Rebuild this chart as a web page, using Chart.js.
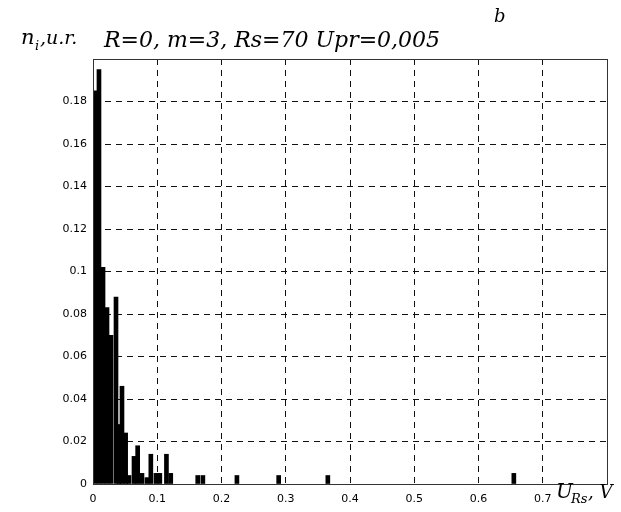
<!DOCTYPE html>
<html>
<head>
<meta charset="utf-8">
<script src="https://cdn.jsdelivr.net/npm/chart.js@4"></script>
<style>
  html, body { margin: 0; padding: 0; background: #fff; }
  #wrap { width: 621px; height: 512px; position: relative; }
</style>
</head>
<body>
<div id="wrap"><canvas id="histChart"></canvas></div>
<script>
// bar positions (U_Rs, V) and heights (n_i, u.r.)
const barX = [0.0033, 0.0093, 0.0156, 0.0218, 0.028, 0.0358, 0.0405, 0.0451, 0.0508, 0.056,
              0.0638, 0.0695, 0.0762, 0.084, 0.090, 0.098, 0.104, 0.1143, 0.121,
              0.163, 0.171, 0.224, 0.289, 0.3655, 0.655];
const barY = [0.185, 0.195, 0.102, 0.083, 0.070, 0.088, 0.028, 0.046, 0.024, 0.004,
              0.013, 0.018, 0.005, 0.003, 0.014, 0.005, 0.005, 0.014, 0.005,
              0.004, 0.004, 0.004, 0.004, 0.004, 0.005];
const xTicks = [0, 0.1, 0.2, 0.3, 0.4, 0.5, 0.6, 0.7];
const yTicks = [0, 0.02, 0.04, 0.06, 0.08, 0.1, 0.12, 0.14, 0.16, 0.18];
const titleText = 'R=0, m=3, Rs=70 Upr=0,005';

document.addEventListener('DOMContentLoaded', function() {
    const canvas = document.getElementById('histChart');
    const serif = '"DejaVu Serif", serif';

    // frame round the plot and the hand-placed labels
    const labelsPlugin = {
        id: 'labels',
        afterDraw(chart) {
            const ctx = chart.ctx;
            const a = chart.chartArea;
            ctx.save();
            ctx.strokeStyle = '#333';
            ctx.lineWidth = 1;
            ctx.strokeRect(Math.round(a.left) + 0.5, Math.round(a.top) + 0.5,
                           Math.round(a.right - a.left), Math.round(a.bottom - a.top));

            ctx.fillStyle = '#000';
            ctx.textBaseline = 'alphabetic';
            ctx.textAlign = 'left';
            // title
            ctx.font = 'italic 22px ' + serif;
            ctx.fillText(titleText, 104, 47);
            ctx.font = 'italic 18px ' + serif;
            ctx.fillText('b', 494, 22);
            // y axis name
            ctx.font = 'italic 21px ' + serif;
            ctx.fillText('n', 21, 44);
            ctx.font = 'italic 13px ' + serif;
            ctx.fillText('i', 35, 50);
            ctx.font = 'italic 19px ' + serif;
            ctx.fillText(',u.r.', 40, 44);
            // x axis name
            ctx.font = 'italic 20px ' + serif;
            ctx.fillText('U', 556, 498);
            ctx.font = 'italic 13px ' + serif;
            ctx.fillText('Rs', 571, 503);
            ctx.font = 'italic 18px ' + serif;
            ctx.fillText(', V', 588, 498);
            ctx.restore();
        }
    };

    const gridDash = [6, 5];

    new Chart(canvas, {
        type: 'bar',
        data: {
            datasets: [{
                data: barX.map((x, i) => ({ x: x, y: barY[i] })),
                backgroundColor: '#000',
                borderWidth: 0,
                barThickness: 4
            }]
        },
        options: {
            responsive: true,
            maintainAspectRatio: false,
            animation: false,
            layout: { padding: { top: 59, right: 14, bottom: 0, left: 0 } },
            plugins: {
                legend: { display: false },
                tooltip: { enabled: false }
            },
            scales: {
                x: {
                    type: 'linear',
                    min: 0,
                    max: 0.8,
                    offset: false,
                    afterFit: function(scale) { scale.height = 28; },
                    afterBuildTicks: function(scale) {
                        scale.ticks = xTicks.concat([0.8]).map(v => ({ value: v }));
                    },
                    grid: { offset: false, color: '#111', lineWidth: 1, drawTicks: false },
                    border: { display: true, color: '#333', dash: gridDash },
                    ticks: {
                        padding: 9,
                        color: '#000',
                        font: { family: '"DejaVu Sans", sans-serif', size: 11 },
                        callback: function(v) { return xTicks.indexOf(v) >= 0 ? String(v) : ''; }
                    }
                },
                y: {
                    min: 0,
                    max: 0.2,
                    afterFit: function(scale) { scale.width = 93; },
                    afterBuildTicks: function(scale) {
                        scale.ticks = yTicks.concat([0.2]).map(v => ({ value: v }));
                    },
                    grid: { color: '#111', lineWidth: 1, drawTicks: false },
                    border: { display: true, color: '#333', dash: gridDash },
                    ticks: {
                        padding: 6,
                        color: '#000',
                        font: { family: '"DejaVu Sans", sans-serif', size: 11 },
                        callback: function(v) { return yTicks.indexOf(v) >= 0 ? String(v) : ''; }
                    }
                }
            }
        },
        plugins: [labelsPlugin]
    });
});
</script>
</body>
</html>
